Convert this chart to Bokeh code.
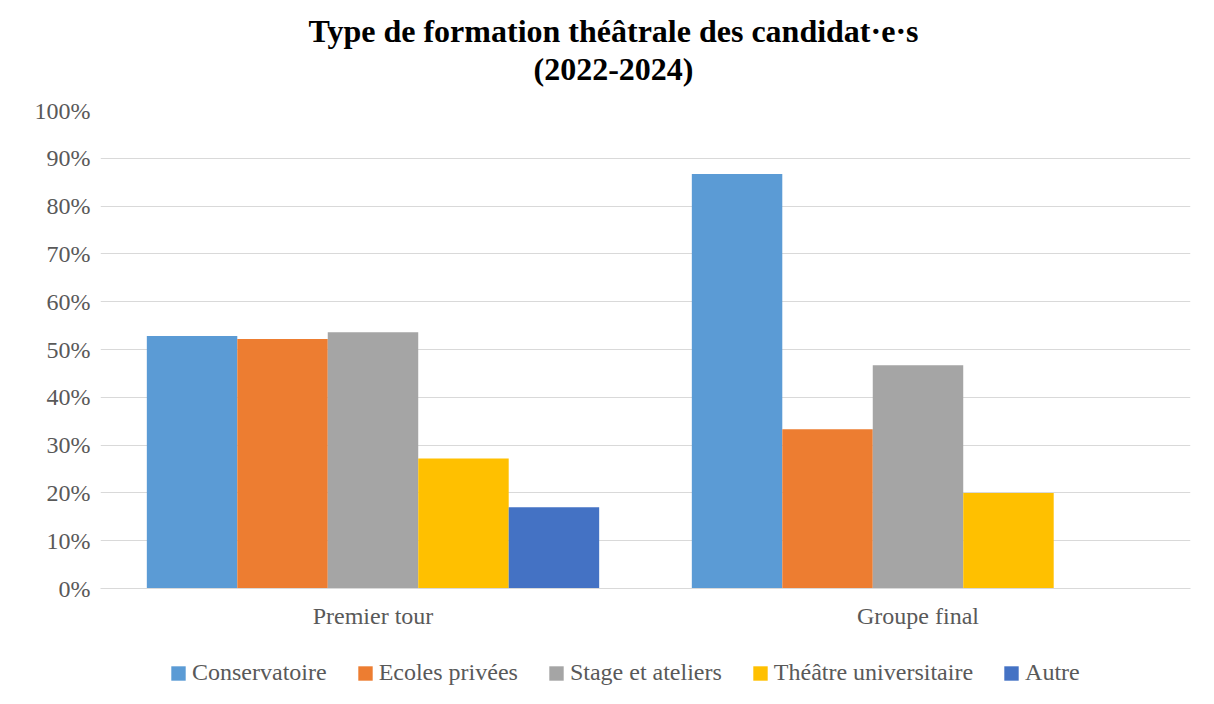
from bokeh.plotting import figure
from bokeh.models import (ColumnDataSource, FactorRange, FixedTicker, NumeralTickFormatter,
                          Legend, LegendItem, Label, Range1d)
from bokeh.layouts import column
from bokeh.transform import dodge
from bokeh.embed import file_html
from bokeh.resources import INLINE

categories = ["Premier tour", "Groupe final"]
series = ["Conservatoire", "Ecoles privées", "Stage et ateliers", "Théâtre universitaire", "Autre"]
conservatoire = [0.528, 0.867]
ecoles_privees = [0.522, 0.333]
stage_ateliers = [0.536, 0.467]
theatre_univ = [0.272, 0.200]
autre = [0.170, 0.0]
colors = ["#5B9BD5", "#ED7D31", "#A5A5A5", "#FFC000", "#4472C4"]
y_ticks = [0, 0.1, 0.2, 0.3, 0.4, 0.5, 0.6, 0.7, 0.8, 0.9, 1.0]
title_lines = ["Type de formation théâtrale des candidat·e·s", "(2022-2024)"]

FONT = "Liberation Serif"
TXT = "#595959"


def blank(fig):
    fig.axis.visible = False
    fig.grid.grid_line_color = None
    fig.outline_line_color = None
    fig.background_fill_color = "white"
    fig.border_fill_color = "white"


# title strip (page pixels used as data units)
pt = figure(width=1206, height=94, x_range=Range1d(100, 1190), y_range=Range1d(94, 0),
            output_backend="svg", toolbar_location=None, min_border=0)
blank(pt)
for txt, yy in zip(title_lines, [30, 68]):
    pt.add_layout(Label(x=613, y=yy, text=txt, text_align="center", text_baseline="middle",
                        text_font=FONT, text_font_size="32px", text_font_style="bold",
                        text_color="#000000"))

source = ColumnDataSource(dict(
    cat=categories,
    s0=conservatoire, s1=ecoles_privees, s2=stage_ateliers, s3=theatre_univ, s4=autre,
))

p = figure(x_range=FactorRange(*categories, range_padding=0), y_range=Range1d(0, 1.0),
           width=1206, height=546, output_backend="svg", toolbar_location=None,
           title=None, min_border_left=100, min_border_right=16, min_border_top=16,
           min_border_bottom=52)
p.x_range.factor_padding = 0
p.x_range.group_padding = 0

bw = 0.166
offsets = [-2 * bw, -bw, 0, bw, 2 * bw]
for i, col in enumerate(colors):
    p.vbar(x=dodge("cat", offsets[i], range=p.x_range), top="s%d" % i, width=bw,
           source=source, fill_color=col, line_color=None)

p.outline_line_color = None
p.background_fill_color = "white"
p.border_fill_color = "white"

p.xgrid.grid_line_color = None
p.ygrid.grid_line_color = "#D9D9D9"
p.ygrid.grid_line_width = 1
p.ygrid.ticker = FixedTicker(ticks=y_ticks)

p.yaxis.ticker = FixedTicker(ticks=y_ticks)
p.yaxis.formatter = NumeralTickFormatter(format="0%")
p.yaxis.axis_line_color = None
p.yaxis.major_tick_line_color = None
p.yaxis.minor_tick_line_color = None
p.yaxis.major_tick_out = 0
p.yaxis.major_label_standoff = 10
p.yaxis.major_label_text_font = FONT
p.yaxis.major_label_text_font_size = "24px"
p.yaxis.major_label_text_color = TXT

p.xaxis.axis_line_color = "#D9D9D9"
p.xaxis.major_tick_line_color = None
p.xaxis.minor_tick_line_color = None
p.xaxis.major_tick_out = 0
p.xaxis.major_label_standoff = 14
p.xaxis.major_label_text_font = FONT
p.xaxis.major_label_text_font_size = "24px"
p.xaxis.major_label_text_color = TXT

# legend strip below the chart (frames are aligned with the main chart by the column)
p2 = figure(width=1206, height=56, x_range=Range1d(0, 1), y_range=Range1d(0, 1),
            output_backend="svg", toolbar_location=None, min_border=0)
blank(p2)
swatch_src = ColumnDataSource(dict(x=[0.5], top=[0.0]))
swatches = []
for col in colors:
    swatches.append(p2.vbar(x="x", top="top", width=0.0, source=swatch_src,
                            fill_color=col, line_color=None))

legend = Legend(items=[LegendItem(label=n, renderers=[r], index=0) for n, r in zip(series, swatches)],
                orientation="horizontal", location=(69, 10),
                label_text_font=FONT, label_text_font_size="24px", label_text_color=TXT,
                glyph_width=18, glyph_height=18, label_standoff=5, spacing=29,
                padding=0, margin=0, border_line_color=None, background_fill_alpha=0)
p2.add_layout(legend, "center")

layout = column(pt, p, p2, spacing=0)
open("out.html", "w").write(file_html(layout, INLINE))
